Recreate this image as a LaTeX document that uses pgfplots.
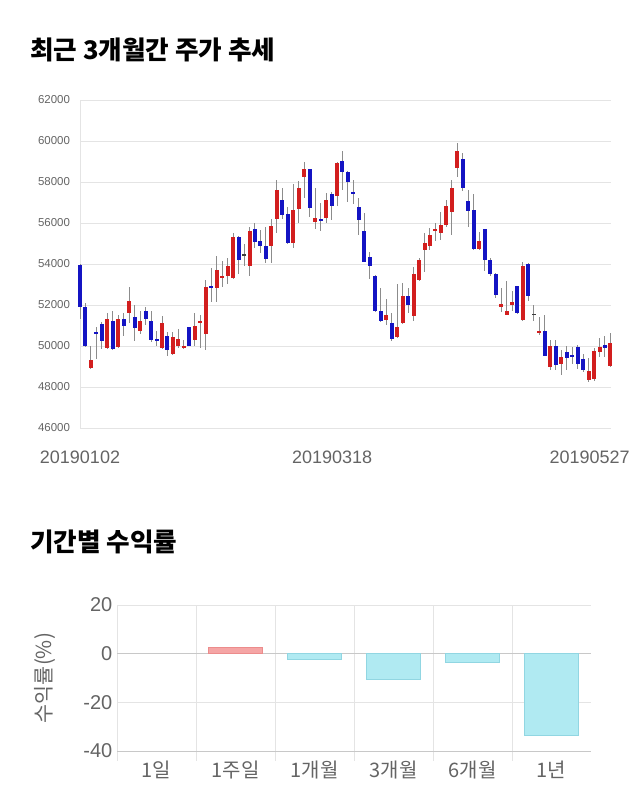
\documentclass[border=0pt]{standalone}
\usepackage{fontspec}
\setmainfont{Liberation Sans}
\newfontfamily\kr{Noto Sans CJK KR}
\usepackage{pgfplots}
\usepackage{pgfplotstable}
\pgfplotsset{compat=1.18}

\definecolor{cred}{RGB}{210,30,30}
\definecolor{cblue}{RGB}{20,20,195}
\definecolor{cdoji}{RGB}{60,60,60}
\definecolor{wick}{RGB}{140,140,140}
\definecolor{gridc}{RGB}{228,228,228}
\definecolor{zeroc}{RGB}{200,200,200}
\definecolor{tickc}{RGB}{100,100,100}
\definecolor{posf}{RGB}{245,165,165}
\definecolor{posd}{RGB}{236,140,140}
\definecolor{negf}{RGB}{176,234,242}
\definecolor{negd}{RGB}{145,214,226}

% up candles (red): index open high low close
\pgfplotstableread{
i o h l c
2 48950 50000 48900 49300
5 49900 51600 49850 51300
7 49950 51500 49900 51300
9 51600 52900 51100 52200
11 50720 51700 50600 51220
15 49900 51450 49850 51100
17 49620 50700 49550 50420
18 50000 50850 49900 50320
19 49900 50300 49850 50000
21 50300 51600 50000 51000
22 51110 51520 49920 51220
23 50600 53200 49830 52900
25 52820 54400 52170 53710
26 53300 54150 52900 53420
27 53420 54300 53050 53900
28 53300 55500 53250 55330
31 53920 55800 53400 55620
35 54900 56200 54050 55830
36 56200 58100 55500 57610
39 55010 57900 54800 56640
40 56700 58050 56000 57730
41 58220 59000 57200 58620
43 56030 57700 55700 56230
45 56230 57450 56000 57100
47 57300 59000 56850 58910
56 51270 52300 51050 51520
58 50420 53030 50380 50920
59 51110 53050 51050 52420
61 51480 53850 51200 53500
62 53200 54300 53150 54210
63 54700 55500 53600 55030
64 54900 55750 54690 55420
65 55600 56000 55100 55720
66 55500 56530 55170 55900
67 55910 57100 55820 56830
68 56530 58100 55400 57700
69 58700 59900 58260 59510
73 54720 55580 54700 55120
77 51920 52820 51650 52040
78 51520 53150 51500 51730
79 52000 52700 51700 52130
81 51280 54080 51200 53910
84 50620 51420 50550 50720
86 49000 50300 48850 49980
88 49130 49800 48600 49440
93 48330 49400 48250 48780
94 48380 49900 48300 49740
95 49730 50380 49480 49960
97 49010 50630 49000 50140
}\upT

% down candles (blue)
\pgfplotstableread{
i o h l c
0 53950 54000 51300 51900
1 51900 52100 49950 50000
3 50700 50950 49350 50600
4 51050 51150 49850 50250
6 51200 51700 49800 49850
8 51300 51600 50500 51000
10 51400 52000 50250 50900
12 51700 51900 51050 51300
13 51200 51700 50200 50300
14 50330 50750 49980 50220
16 50500 50700 49500 49800
20 50920 50950 50000 50000
24 52930 53800 52170 52820
29 55330 55350 53500 54220
32 55700 56000 54800 55090
33 55100 55650 54550 54900
34 54900 55800 54050 54220
37 57120 57700 56200 56400
38 56440 56800 55000 55010
42 58620 58650 56300 56720
44 56200 57000 55600 56100
46 57400 57500 56150 56820
48 59030 59500 57600 58500
49 58500 58550 57050 58020
50 57500 58100 56930 57410
51 56800 57200 55420 56130
52 55620 56500 54100 54120
53 54320 54600 53260 53880
54 53430 53450 51650 51700
55 51720 52850 51150 51230
57 51110 51600 50220 50320
60 52430 52820 51600 52010
70 59110 59400 57550 57700
71 57050 57600 55830 56610
72 56640 57400 54700 54720
74 55700 55720 53680 54220
75 54220 54300 53400 53500
76 53500 53550 52350 52490
80 52930 52950 51550 51620
82 54010 54050 52200 52420
85 50720 51500 49500 49520
87 49980 50300 48850 49060
89 49720 50000 48850 49420
90 49570 49950 49100 49440
91 49970 50050 48870 49100
92 49350 49600 48750 48820
96 50010 50500 49450 49940
}\dnT

% unchanged candles
\pgfplotstableread{
i o h l c
30 54440 55000 53880 54440
83 51540 52000 51200 51540
}\flT

\begin{document}
\begin{tikzpicture}[x=1pt,y=1pt]
\path[use as bounding box] (0,0) rectangle (480,-607.5);

\node[anchor=west, inner sep=0] at (22.5,-37.5) {\kr\bfseries\fontsize{19.2}{21}\selectfont 최근 3개월간 주가 추세};

\begin{axis}[
  at={(60pt,-321pt)}, anchor=south west, scale only axis,
  width=398.25pt, height=246pt,
  xmin=0, xmax=97.1, ymin=46000, ymax=62000,
  ytick={46000,48000,...,62000},
  xtick={0,46.1,93.2},
  xticklabels={20190102,20190318,20190527},
  clip=false,
  axis x line=bottom, axis y line=left,
  axis line style={draw=gridc,-},
  major tick length=0pt,
  ymajorgrids, grid style={draw=gridc, line width=0.75pt},
  scaled y ticks=false,
  /pgf/number format/.cd, set thousands separator={}, assume math mode=true,
  /pgfplots/.cd,
  yticklabel style={font=\fontsize{8.6}{10}\selectfont, text=tickc, xshift=-4pt},
  xticklabel style={font=\fontsize{13.5}{15}\selectfont, text=tickc, yshift=-14pt},
  candle/.style={draw=none, mark=none, error bars/.cd, y dir=both, y explicit, error mark=none},
]
\addplot[candle, error bar style={draw=wick, line width=0.75pt}]
  table[x=i, y expr={(\thisrow{h}+\thisrow{l})/2}, y error expr={(\thisrow{h}-\thisrow{l})/2}] \upT;
\addplot[candle, error bar style={draw=wick, line width=0.75pt}]
  table[x=i, y expr={(\thisrow{h}+\thisrow{l})/2}, y error expr={(\thisrow{h}-\thisrow{l})/2}] \dnT;
\addplot[candle, error bar style={draw=wick, line width=0.75pt}]
  table[x=i, y expr={(\thisrow{h}+\thisrow{l})/2}, y error expr={(\thisrow{h}-\thisrow{l})/2}] \flT;
\addplot[candle, error bar style={draw=cred, line width=3pt}]
  table[x=i, y expr={(\thisrow{o}+\thisrow{c})/2}, y error expr={max(abs(\thisrow{c}-\thisrow{o})/2,50)}] \upT;
\addplot[candle, error bar style={draw=cblue, line width=3pt}]
  table[x=i, y expr={(\thisrow{o}+\thisrow{c})/2}, y error expr={max(abs(\thisrow{c}-\thisrow{o})/2,50)}] \dnT;
\addplot[candle, error bar style={draw=cdoji, line width=3pt}]
  table[x=i, y expr={(\thisrow{o}+\thisrow{c})/2}, y error expr={max(abs(\thisrow{c}-\thisrow{o})/2,40)}] \flT;
\end{axis}

\node[anchor=west, inner sep=0] at (22.5,-406.5) {\kr\bfseries\fontsize{19.2}{21}\selectfont 기간별 수익률};

\node[rotate=90, text=tickc, font=\kr\fontsize{15.5}{17}\selectfont] at (33.75,-508.5) {수익률(\%)};

\begin{axis}[
  at={(87.75pt,-563.25pt)}, anchor=south west, scale only axis,
  width=355.5pt, height=109.5pt,
  xmin=-0.5, xmax=5.5, ymin=-40, ymax=20,
  ytick={-40,-20,0,20},
  xtick={0,...,5},
  xticklabels={1일,1주일,1개월,3개월,6개월,1년},
  minor xtick={-0.5,0.5,1.5,2.5,3.5,4.5},
  axis x line=bottom, axis y line=left,
  axis line style={draw=gridc,-},
  x axis line style={draw=zeroc},
  major tick length=0pt, minor tick length=7.5pt, tick align=outside,
  minor tick style={draw=gridc, line width=0.75pt},
  xminorgrids, ymajorgrids,
  grid style={draw=gridc, line width=0.75pt},
  minor grid style={draw=gridc, line width=0.75pt},
  extra y ticks={0}, extra y tick labels={},
  extra y tick style={grid style={draw=zeroc, line width=0.75pt}},
  /pgf/number format/assume math mode=true,
  yticklabel style={font=\fontsize{15}{17}\selectfont, text=tickc},
  xticklabel style={font=\kr\fontsize{15}{17}\selectfont, text=tickc, yshift=-4pt},
]
\addplot[ybar, bar width=0.68, bar shift=0pt, fill=posf, draw=posd] coordinates {(1,2.5)};
\addplot[ybar, bar width=0.68, bar shift=0pt, fill=negf, draw=negd] coordinates {(2,-2.5) (3,-10.4) (4,-3.7) (5,-33.7)};
\end{axis}
\end{tikzpicture}
\end{document}
